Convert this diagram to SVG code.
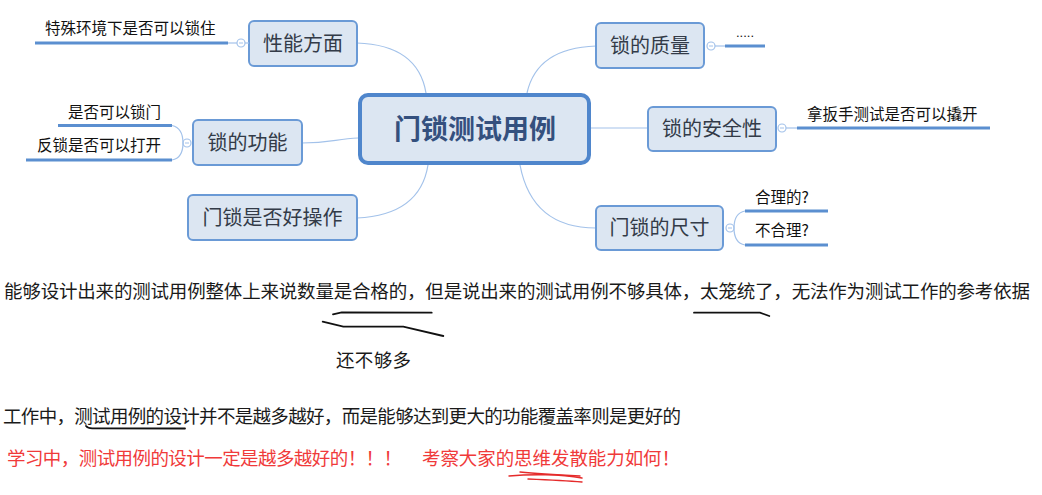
<svg xmlns="http://www.w3.org/2000/svg" width="1042" height="495" viewBox="0 0 1042 495">
<style>
text{font-family:"Noto Sans CJK SC","Microsoft YaHei","Liberation Sans",sans-serif;}
.box{fill:#dce6f2;stroke:#6a9ad6;stroke-width:2;}
.center{fill:#dce6f2;stroke:#4f86cc;stroke-width:4;}
.lbl{font-size:20px;fill:#333b48;text-anchor:middle;}
.title{font-size:27px;font-weight:bold;fill:#34507e;text-anchor:middle;}
.sub{font-size:15.5px;fill:#111;}
.conn{fill:none;stroke:#a3c2ea;stroke-width:1.2;}
.thick{fill:none;stroke:#5b8fd0;stroke-width:3;}
.knob{fill:#fff;stroke:#a3c2ea;stroke-width:1.2;}
.minus{stroke:#a3c2ea;stroke-width:1;}
.body{font-size:18.5px;fill:#1a1a1a;}
.red{font-size:18.5px;fill:#f03a3a;}
.ink{fill:none;stroke:#111;stroke-width:1.8;stroke-linecap:round;}
.rink{fill:none;stroke:#e52b2b;stroke-width:1.4;stroke-linecap:round;}
</style>

<g id="connectors">
<path class="conn" d="M357,43 Q418,45 426,93"/>
<path class="conn" d="M302,143 C330,143 336,139 358,138"/>
<path class="conn" d="M357,218 Q420,215 428,165"/>
<path class="conn" d="M596,46 Q537,48 527,93"/>
<path class="conn" d="M591,128 L648,128"/>
<path class="conn" d="M520,165 Q532,228 596,228"/>
</g>

<g id="center">
<rect class="center" x="360" y="95" width="229" height="68" rx="8"/>
<text class="title" x="475" y="139">门锁测试用例</text>
</g>

<g id="node-performance">
<rect class="box" x="249" y="21" width="108" height="45" rx="5"/>
<text class="lbl" x="303" y="51">性能方面</text>
<line class="conn" x1="245" y1="43" x2="249" y2="43"/>
<circle class="knob" cx="241" cy="43" r="4"/>
<line class="minus" x1="239" y1="43" x2="243" y2="43"/>
<line class="conn" x1="228" y1="43" x2="237" y2="43"/>
<line class="thick" x1="35" y1="43" x2="228" y2="43"/>
<text class="sub" x="45" y="34">特殊环境下是否可以锁住</text>
</g>

<g id="node-function">
<rect class="box" x="193" y="120" width="109" height="45" rx="5"/>
<text class="lbl" x="247.5" y="150">锁的功能</text>
<circle class="knob" cx="187" cy="143" r="4"/>
<line class="minus" x1="185" y1="143" x2="189" y2="143"/>
<path class="conn" d="M172,125.5 Q183,128 183,143 Q183,158 172,160"/>
<line class="thick" x1="58" y1="125.5" x2="172" y2="125.5"/>
<line class="thick" x1="26" y1="160" x2="172" y2="160"/>
<text class="sub" x="68" y="117.5">是否可以锁门</text>
<text class="sub" x="37" y="151">反锁是否可以打开</text>
</g>

<g id="node-operate">
<rect class="box" x="188" y="195" width="169" height="45" rx="5"/>
<text class="lbl" x="272.5" y="225">门锁是否好操作</text>
</g>

<g id="node-quality">
<rect class="box" x="596" y="23" width="108" height="45" rx="5"/>
<text class="lbl" x="650" y="53">锁的质量</text>
<circle class="knob" cx="711" cy="46" r="4"/>
<line class="minus" x1="709" y1="46" x2="713" y2="46"/>
<line class="conn" x1="715" y1="46" x2="725" y2="46"/>
<line class="thick" x1="725" y1="46" x2="765" y2="46"/>
<text x="736" y="37" style="font-family:'Liberation Sans',sans-serif;font-size:13px;fill:#111">.....</text>
</g>

<g id="node-security">
<rect class="box" x="648" y="107" width="128" height="44" rx="5"/>
<text class="lbl" x="712" y="136">锁的安全性</text>
<circle class="knob" cx="782" cy="128" r="4"/>
<line class="minus" x1="780" y1="128" x2="784" y2="128"/>
<line class="conn" x1="786" y1="128" x2="797" y2="128"/>
<line class="thick" x1="797" y1="128" x2="990" y2="128"/>
<text class="sub" x="807" y="119.5">拿扳手测试是否可以撬开</text>
</g>

<g id="node-size">
<rect class="box" x="596" y="206" width="127" height="44" rx="5"/>
<text class="lbl" x="659.5" y="235">门锁的尺寸</text>
<circle class="knob" cx="730" cy="228" r="4"/>
<line class="minus" x1="728" y1="228" x2="732" y2="228"/>
<path class="conn" d="M745,211 Q734,213 734,228 Q734,243 745,245"/>
<line class="thick" x1="745" y1="211" x2="828" y2="211"/>
<line class="thick" x1="745" y1="245" x2="828" y2="245"/>
<text class="sub" x="755" y="202.5">合理的?</text>
<text class="sub" x="755" y="236">不合理?</text>
</g>

<g id="notes">
<text class="body" x="4" y="298" textLength="1026">能够设计出来的测试用例整体上来说数量是合格的，但是说出来的测试用例不够具体，太笼统了，无法作为测试工作的参考依据</text>
<path class="ink" d="M333,314.3 L341.7,312.3 L431.7,312.7"/>
<path class="ink" d="M322.7,321.7 L343.3,326.7 L403.3,326.7 L443.3,336"/>
<path class="ink" d="M694,312.7 L760,312.7 L769.3,316"/>
<text class="body" x="336" y="367" textLength="75">还不够多</text>
<text class="body" x="3" y="423" textLength="678">工作中，测试用例的设计并不是越多越好，而是能够达到更大的功能覆盖率则是更好的</text>
<path class="ink" d="M86,426 Q88,428.5 93,428.3 L185,428.5"/>
<text class="red" x="7" y="465" textLength="395">学习中，测试用例的设计一定是越多越好的！！！</text>
<text class="red" x="422" y="465" textLength="258">考察大家的思维发散能力如何！</text>
<path class="rink" d="M509,476 C530,474 560,474 582,478"/>
<path class="rink" d="M520,472 C540,474 560,475 580,476"/>
<path class="rink" d="M528,479 C552,480 570,481 582,482"/>
</g>
</svg>
